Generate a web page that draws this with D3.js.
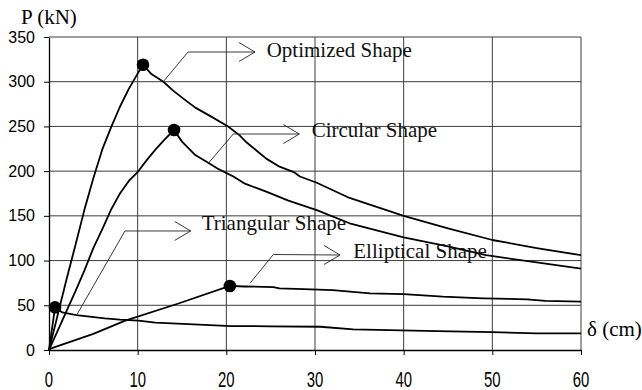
<!DOCTYPE html>
<html>
<head>
<meta charset="utf-8">
<script src="https://cdn.jsdelivr.net/npm/d3@7"></script>
<style>
  body { margin: 0; background: white; }
  .serif { font-family: "Liberation Serif", "Times New Roman", "DejaVu Serif", serif; font-size: 21px; }
  .sans { font-family: "Liberation Sans", Arial, sans-serif; font-size: 16px; }
</style>
</head>
<body>
<script>
// Load-displacement curves (δ in cm, P in kN).
const xTicks = [0, 10, 20, 30, 40, 50, 60];
const yTicks = [0, 50, 100, 150, 200, 250, 300, 350];

const optimized = [[0,0],[1,40],[2,80],[3,118],[4,157],[5,192],[6,224],[7,249],[8,272],[9,292],[10,309],[10.6,319],
  [11.5,309],[12.9,300],[14,290],[15.3,280],[16.5,271],[18.3,261],[20.2,250],[21.5,240],[22.3,232],[24.5,214],[26,205],
  [27.6,199],[28.3,194],[30.2,187],[33.9,170],[40,150],[45,136],[50,123],[55,114],[60,106]];

const circular = [[0,0],[1,22],[2,44],[3,66],[4,89],[5,114],[6,135],[7,157],[8,175],[9,189],[10,199],[11,212],[12,224],
  [13,235],[14.1,246],[15,233],[16.5,218],[18,209],[19,203],[20.2,197],[20.8,194],[22.1,186],[24.5,177],[27,167],
  [30.2,156.5],[33.9,141.7],[40,126],[45,116],[49.3,106],[55,98],[60,91]];

const elliptical = [[0,1],[5,18],[8.6,32.8],[14.6,52],[20.4,71.6],[22,71],[25.3,70.4],[26,69],[28.7,68],[32,67],
  [36.2,63.4],[40,62.5],[44.4,59.6],[49,57.8],[53.9,56.7],[56,55],[60,54]];

const triangular = [[0,0],[0.68,47.7],[1.5,42],[3.1,39],[6.3,35.4],[8,34],[10.1,32.8],[12,30.6],[15.7,29],[20.6,26.8],
  [25,26.5],[30.6,26],[34.3,23],[43.8,21.2],[50,20],[55,18.6],[60,18.6]];

// peak markers
const peakD = [10.6, 14.1, 20.4, 0.68];
const peakP = [319, 246, 71.6, 47.7];

// labels with leader arrows: point on curve -> elbow -> arrow tip, then the text
const labels = ["Optimized Shape", "Circular Shape", "Triangular Shape", "Elliptical Shape"];
const leaderFrom = [[12.86,299.7],[17.97,208.8],[3.12,39.1],[22.67,74.6]];
const leaderElbow = [[15.68,333.2],[20.78,241.5],[8.57,133.1],[25.3,106.8]];
const leaderTip = [[23.23,333.2],[28.23,241.5],[15.98,133.1],[32.82,106.2]];
const labelAt = [[24.55,328],[29.63,237.8],[17.22,134.2],[34.32,102.5]];

const createChart = () => {
  const width = 642;
  const height = 390;
  const margin = {top: 37, right: 61, bottom: 40, left: 49};

  const svg = d3.select("body")
    .append("svg")
    .attr("width", width)
    .attr("height", height)
    .attr("viewBox", `0 0 ${width} ${height}`);

  const x = d3.scaleLinear().domain([0, 60]).range([margin.left, width - margin.right]);
  const y = d3.scaleLinear().domain([0, 350]).range([height - margin.bottom, margin.top]);

  // grid
  const grid = svg.append("g").attr("stroke", "#3c3c3c").attr("stroke-width", 1);
  grid.selectAll("line.h")
    .data(yTicks.slice(1))
    .join("line")
      .attr("class", "h")
      .attr("x1", x(0)).attr("x2", x(60))
      .attr("y1", d => y(d)).attr("y2", d => y(d));
  grid.selectAll("line.v")
    .data(xTicks.slice(1))
    .join("line")
      .attr("class", "v")
      .attr("x1", d => x(d)).attr("x2", d => x(d))
      .attr("y1", y(0)).attr("y2", y(350));

  // axes
  const yAxis = svg.append("g")
    .attr("transform", `translate(${x(0)},0)`)
    .call(d3.axisLeft(y).tickValues(yTicks).tickSize(5).tickSizeOuter(0).tickPadding(9));
  const xAxis = svg.append("g")
    .attr("transform", `translate(0,${y(0)})`)
    .call(d3.axisBottom(x).tickValues(xTicks).tickSize(5).tickSizeOuter(0).tickFormat(() => ""));
  [yAxis, xAxis].forEach(a => {
    a.select(".domain").attr("stroke", "#000").attr("stroke-width", 1.3);
    a.selectAll(".tick line").attr("stroke", "#000");
  });
  yAxis.attr("font-family", null).attr("font-size", null);
  yAxis.selectAll(".tick text")
    .attr("class", "sans")
    .attr("fill", "#000");

  // x tick labels are taller than wide in the original
  svg.append("g").selectAll("text")
    .data(xTicks)
    .join("text")
      .attr("class", "sans")
      .attr("transform", d => `translate(${x(d)},386.5) scale(0.93,1.33)`)
      .attr("text-anchor", "middle")
      .text(d => d);

  // axis titles
  svg.append("text")
    .attr("class", "serif")
    .attr("x", 21).attr("y", 24)
    .text("P (kN)");
  svg.append("text")
    .attr("class", "serif")
    .attr("x", 587).attr("y", 336)
    .text("δ (cm)");

  // curves
  const line = d3.line().x(d => x(d[0])).y(d => y(d[1]));
  svg.append("g")
    .attr("fill", "none")
    .attr("stroke", "#000")
    .attr("stroke-width", 1.8)
    .attr("stroke-linejoin", "round")
    .selectAll("path")
    .data([optimized, circular, elliptical, triangular])
    .join("path")
      .attr("d", line);

  // peak dots
  svg.append("g").selectAll("circle")
    .data(peakD)
    .join("circle")
      .attr("cx", d => x(d))
      .attr("cy", (d, i) => y(peakP[i]))
      .attr("r", 6.3)
      .attr("fill", "#000");

  // leader arrows + labels
  const ann = svg.append("g").selectAll("g")
    .data(labels)
    .join("g");
  ann.append("polyline")
    .attr("fill", "none")
    .attr("stroke", "#222")
    .attr("stroke-width", 0.9)
    .attr("points", (d, i) => [leaderFrom[i], leaderElbow[i], leaderTip[i]]
      .map(p => `${x(p[0])},${y(p[1])}`).join(" "));
  ann.append("polyline")
    .attr("fill", "none")
    .attr("stroke", "#222")
    .attr("stroke-width", 0.9)
    .attr("points", (d, i) => {
      const tx = x(leaderTip[i][0]), ty = y(leaderTip[i][1]);
      return `${tx - 16},${ty - 9.5} ${tx},${ty} ${tx - 16},${ty + 9.5}`;
    });
  ann.append("text")
    .attr("class", "serif")
    .attr("x", (d, i) => x(labelAt[i][0]))
    .attr("y", (d, i) => y(labelAt[i][1]))
    .attr("fill", "#111")
    .text(d => d);
};

createChart();
</script>
</body>
</html>
